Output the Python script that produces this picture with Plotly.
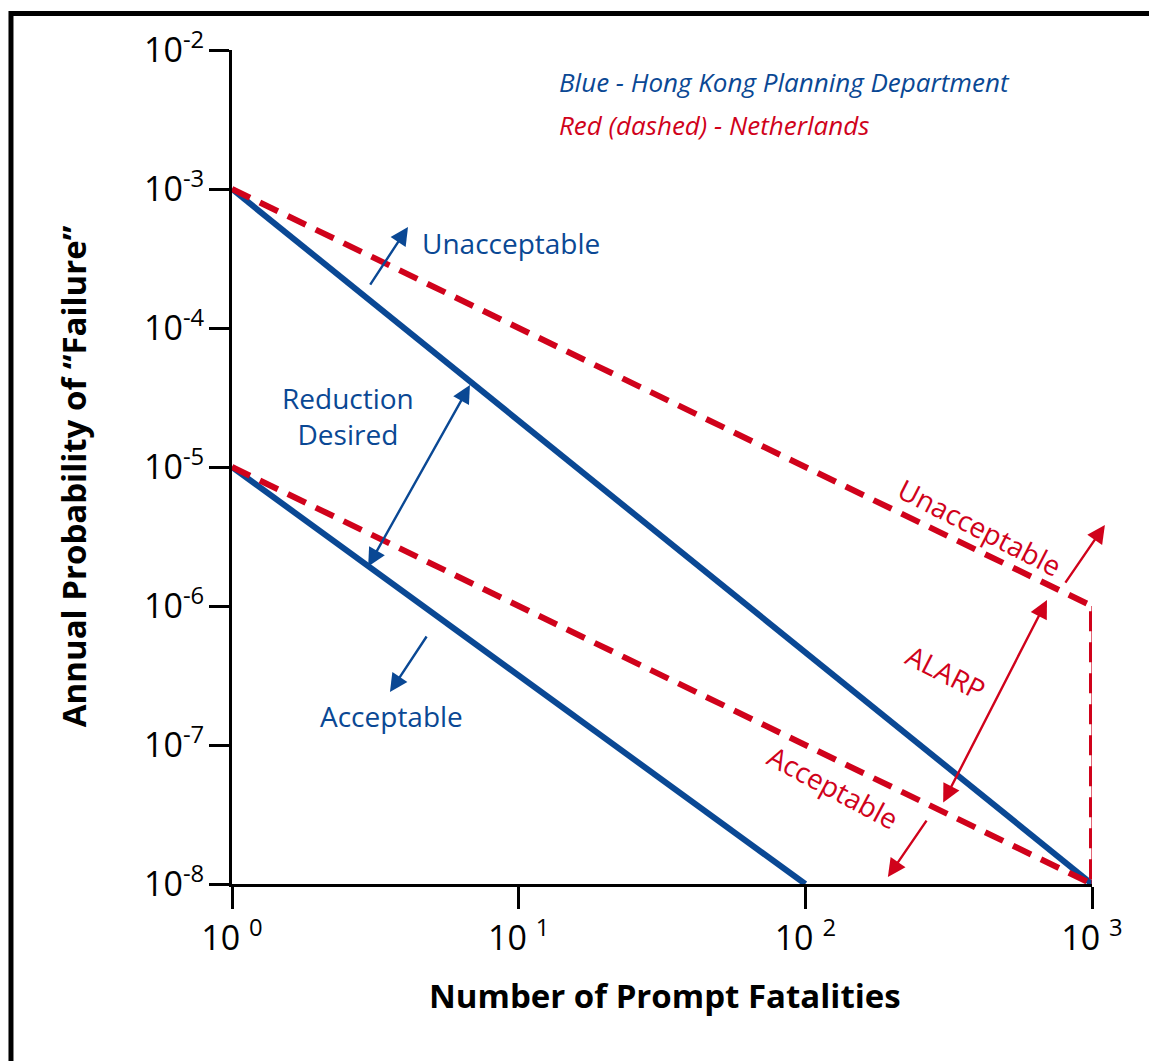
import plotly.graph_objects as go

# ---- data ----
blue_upper_x = [1, 1000]
blue_upper_y = [1e-3, 1e-8]
blue_lower_x = [1, 100]
blue_lower_y = [1e-5, 1e-8]
red_upper_x = [1, 1000, 1000]
red_upper_y = [1e-3, 1e-6, 1e-8]
red_vert_x = [1000, 1000]
red_vert_y = [1e-6, 1e-8]
red_lower_x = [1, 1000]
red_lower_y = [1e-5, 1e-8]

x_tickvals = [1, 10, 100, 1000]
x_ticktext = ["10 <sup>0</sup>", "10 <sup>1</sup>", "10 <sup>2</sup>", "10 <sup>3</sup>"]
y_tickvals = [1e-8, 1e-7, 1e-6, 1e-5, 1e-4, 1e-3, 1e-2]
y_ticktext = ["10<sup>-8</sup>", "10<sup>-7</sup>", "10<sup>-6</sup>", "10<sup>-5</sup>",
              "10<sup>-4</sup>", "10<sup>-3</sup>", "10<sup>-2</sup>"]

BLUE = "#0A4894"
RED = "#D0021B"
FONT = "Open Sans"

fig = go.Figure()
fig.add_trace(go.Scatter(x=blue_upper_x, y=blue_upper_y, mode="lines",
                         line=dict(color=BLUE, width=6), showlegend=False))
fig.add_trace(go.Scatter(x=blue_lower_x, y=blue_lower_y, mode="lines",
                         line=dict(color=BLUE, width=6), showlegend=False))
fig.add_trace(go.Scatter(x=red_vert_x, y=red_vert_y, mode="lines",
                         line=dict(color=RED, width=1.2), showlegend=False))
fig.add_trace(go.Scatter(x=red_upper_x, y=red_upper_y, mode="lines",
                         line=dict(color=RED, width=6, dash="20px,11px"), showlegend=False))
fig.add_trace(go.Scatter(x=red_lower_x, y=red_lower_y, mode="lines",
                         line=dict(color=RED, width=6, dash="20px,11px"), showlegend=False))

ann = []

def arrow(hx, hy, tx, ty, color, both=False, width=2.4):
    d = dict(x=hx, y=hy, ax=tx, ay=ty, xref="x", yref="y", axref="x", ayref="y",
             text="", showarrow=True, arrowhead=2, arrowsize=1.5, arrowwidth=width,
             arrowcolor=color, borderpad=0)
    if both:
        d.update(arrowside="end+start", startarrowhead=2, startarrowsize=1.5)
    ann.append(d)

def label(x, y, text, color, size=28, angle=0, italic=False, xanchor="center"):
    ann.append(dict(x=x, y=y, xref="x", yref="y", text=text, showarrow=False,
                    textangle=angle, xanchor=xanchor, yanchor="middle",
                    font=dict(family=FONT, size=size, color=color,
                              style="italic" if italic else "normal")))

# blue arrows and labels
arrow(0.614, -3.273, 0.481, -3.691, BLUE)
label(0.656, -3.39, "Unacceptable", BLUE, xanchor="left")
arrow(0.830, -4.410, 0.474, -5.719, BLUE, both=True)
label(0.405, -4.63, "Reduction<br>Desired", BLUE)
arrow(0.551, -6.619, 0.680, -6.216, BLUE)
label(0.558, -6.79, "Acceptable", BLUE)

# red arrows and labels
label(2.609, -5.43, "Unacceptable", RED, size=28, angle=27)
arrow(3.045, -5.417, 2.906, -5.835, RED)
arrow(2.843, -5.957, 2.480, -7.417, RED, both=True)
label(2.49, -6.475, "ALARP", RED, size=28, angle=27)
label(2.097, -7.30, "Acceptable", RED, size=28, angle=28)
arrow(2.288, -7.950, 2.424, -7.540, RED)

# legend text
label(1.134, -2.23, "Blue - Hong Kong Planning Department", BLUE, size=26, italic=True, xanchor="left")
label(1.134, -2.54, "Red (dashed) - Netherlands", RED, size=26, italic=True, xanchor="left")

# axis titles
ann.append(dict(x=0.5035, y=-0.134, xref="paper", yref="paper", showarrow=False,
                text="<b>Number of Prompt Fatalities</b>", xanchor="center", yanchor="middle",
                font=dict(family=FONT, size=33, color="black")))
ann.append(dict(x=-0.1849, y=0.489, xref="paper", yref="paper", showarrow=False,
                text="<b>Annual Probability of “Failure”</b>", textangle=-90,
                xanchor="center", yanchor="middle",
                font=dict(family=FONT, size=33, color="black")))

# frame
shapes = [
    dict(type="line", xref="paper", yref="paper", x0=-0.2570, x1=1.09, y0=1.0438, y1=1.0438,
         line=dict(color="black", width=5)),
    dict(type="line", xref="paper", yref="paper", x0=-0.2570, x1=-0.2570, y0=1.0468, y1=-0.25,
         line=dict(color="black", width=5)),
]

fig.update_layout(
    width=1149, height=1053,
    margin=dict(l=224, r=65, t=42, b=177),
    paper_bgcolor="white", plot_bgcolor="white",
    font=dict(family=FONT, color="black"),
    annotations=ann, shapes=shapes,
    showlegend=False,
)
fig.update_xaxes(type="log", range=[0, 3], tickvals=x_tickvals, ticktext=x_ticktext,
                 showgrid=False, zeroline=False, showline=True, linecolor="black", linewidth=3,
                 ticks="outside", ticklen=22, tickwidth=3, tickcolor="black",
                 tickfont=dict(family=FONT, size=34, color="black"), ticklabelstandoff=0)
fig.update_yaxes(type="log", range=[-8, -2], tickvals=y_tickvals, ticktext=y_ticktext,
                 showgrid=False, zeroline=False, showline=True, linecolor="black", linewidth=3,
                 ticks="outside", ticklen=20, tickwidth=3, tickcolor="black",
                 tickfont=dict(family=FONT, size=34, color="black"), ticklabelstandoff=-2)

fig.write_html("out.html")
